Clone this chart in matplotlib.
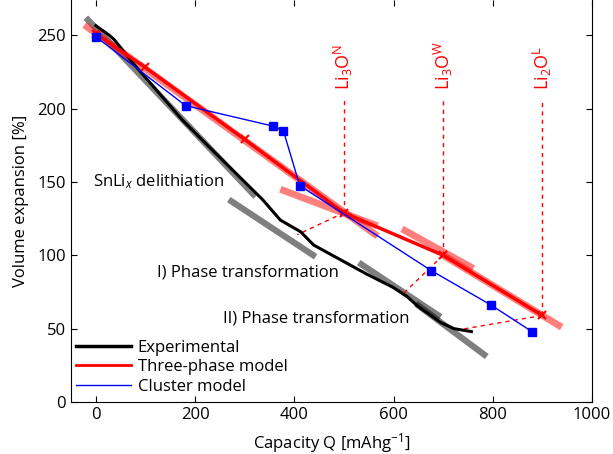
import matplotlib
matplotlib.use("Agg")
import matplotlib.pyplot as plt
from matplotlib.lines import Line2D

plt.rcParams['font.family'] = ['Open Sans', 'DejaVu Sans']
plt.rcParams['mathtext.fontset'] = 'custom'
plt.rcParams['mathtext.rm'] = 'Open Sans'
plt.rcParams['mathtext.it'] = 'Open Sans:italic'

# experimental delithiation curve
exp_q = [0, 27, 37, 80, 134, 175, 228, 282, 336, 372, 413, 439, 493, 547, 600, 627, 650, 696, 722, 757]
exp_v = [256.5, 250, 247, 229, 208, 192, 174, 156, 138, 124, 116, 107, 97, 87, 78, 72, 65, 54, 50, 48]

# three-phase model
tp_q = [0, 100, 300, 500, 700, 900]
tp_v = [251, 228, 179, 129, 100, 59]

# cluster model
cl_q = [0, 181, 358, 378, 411, 676, 797, 879]
cl_v = [249, 202, 188, 185, 147.5, 89.6, 66, 48]

# gray tangents to experimental curve (start, end)
gray_fits = [
    ((-20, 262), (322, 140)),
    ((268, 138), (443, 99)),
    ((530, 95), (695, 58)),
    ((645, 67), (788, 31)),
]
# light red tangents to model
pink_fits = [
    ((-23, 257), (568, 113)),
    ((372, 145), (568, 120)),
    ((617, 118), (761, 91)),
    ((700, 100), (939, 51)),
]
# dashed connections model -> experiment
links = [
    ((500, 129), (406, 114)),
    ((700, 100), (617, 73)),
    ((900, 59), (738, 49.6)),
]
phase_q = [500, 700, 900]
phase_v = [129, 100, 59]
phase_labels = [r'$\mathregular{Li_3O^N}$', r'$\mathregular{Li_3O^W}$', r'$\mathregular{Li_2O^L}$']

fs = 12

fig = plt.figure(figsize=(6.13, 4.54), dpi=100)
ax = fig.add_axes([0.1158, 0.1145, 0.8499, 0.8855])

for (x0, y0), (x1, y1) in gray_fits:
    ax.plot([x0, x1], [y0, y1], color='black', alpha=0.5, lw=4.5, solid_capstyle='butt')
for (x0, y0), (x1, y1) in pink_fits:
    ax.plot([x0, x1], [y0, y1], color='red', alpha=0.5, lw=5, solid_capstyle='butt')

for (x0, y0), (x1, y1) in links:
    ax.plot([x0, x1], [y0, y1], color='red', lw=1, ls=(0, (3, 3)))
for q, v, lab in zip(phase_q, phase_v, phase_labels):
    ax.plot([q, q], [v, 206], color='red', lw=1, ls=(0, (3, 3)))
    ax.text(q, 213, lab, color='red', rotation=90, ha='center', va='bottom', fontsize=fs + 1)

ax.plot(exp_q, exp_v, color='black', lw=2.2, label='Experimental')
ax.plot(tp_q, tp_v, color='red', lw=2.5, marker='x', ms=6, mew=1.5, label='Three-phase model')
ax.plot(cl_q, cl_v, color='blue', lw=1, marker='s', ms=6, label='Cluster model')

ax.text(-5, 150, 'SnLi$_x$ delithiation', fontsize=fs, va='center')
ax.text(124, 88, 'I) Phase transformation', fontsize=fs, va='center')
ax.text(256, 57, 'II) Phase transformation', fontsize=fs, va='center')

ax.set_xlim(-50, 1000)
ax.set_ylim(0, 274)
ax.set_xticks([0, 200, 400, 600, 800, 1000])
ax.set_yticks([0, 50, 100, 150, 200, 250])
ax.tick_params(direction='in', top=True, right=True, labelsize=fs, length=4)
ax.spines['top'].set_visible(False)
ax.set_xlabel('Capacity Q [mAhg$^{-1}$]', fontsize=fs, labelpad=6)
ax.set_ylabel('Volume expansion [%]', fontsize=fs, labelpad=6)

labels = ['Experimental', 'Three-phase model', 'Cluster model']
hl = [Line2D([], [], color='black', lw=2.5), Line2D([], [], color='red', lw=2), Line2D([], [], color='blue', lw=1)]
ax.legend(hl, labels, loc='lower left', bbox_to_anchor=(0, 0.006), frameon=False, fontsize=fs,
          handlelength=3.3, labelspacing=0.2, borderaxespad=0.1, handletextpad=0.4, borderpad=0.2)

fig.savefig('out.png', dpi=100)
